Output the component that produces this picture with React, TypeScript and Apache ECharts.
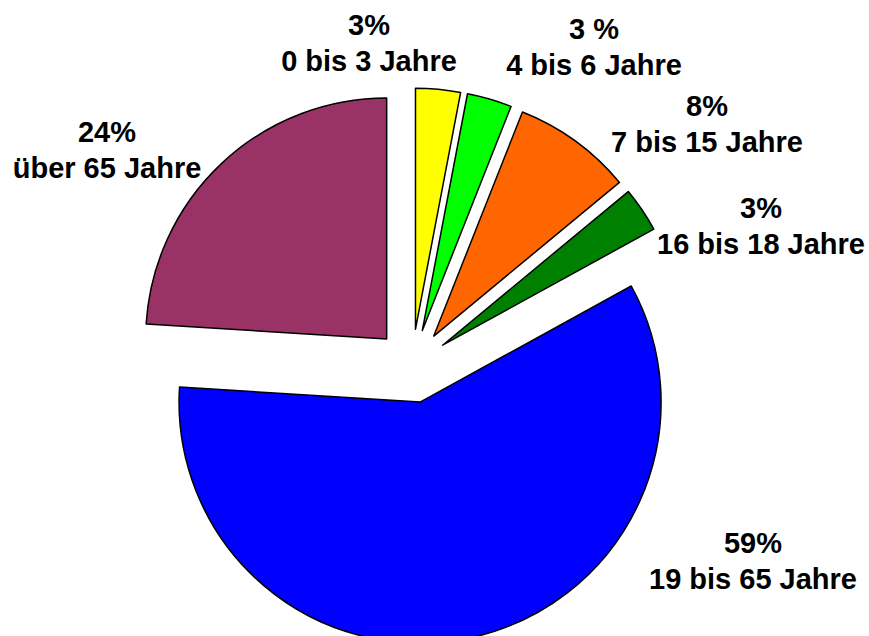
import React, { useEffect, useRef } from "react";
import * as echarts from "echarts";

const categories = ["0 bis 3 Jahre", "4 bis 6 Jahre", "7 bis 15 Jahre", "16 bis 18 Jahre", "19 bis 65 Jahre", "über 65 Jahre"];
const values = [3, 3, 8, 3, 59, 24];
const percentLabels = ["3%", "3 %", "8%", "3%", "59%", "24%"];
const colors = ["#FFFF00", "#00FF00", "#FF6600", "#008000", "#0000FF", "#993366"];
// label block centers (x, y)
const labelPositions: [number, number][] = [
  [369, 43],
  [594, 47],
  [707, 124],
  [761, 226],
  [753, 561],
  [107, 150],
];

export default function App() {
  const ref = useRef<HTMLDivElement>(null);
  useEffect(() => {
    if (!ref.current) return;
    const chart = echarts.init(ref.current, undefined, { renderer: "svg" });
    chart.setOption({
      animation: false,
      backgroundColor: "#ffffff",
      graphic: categories.map((name, i) => ({
        type: "text",
        x: labelPositions[i][0],
        y: labelPositions[i][1],
        silent: true,
        style: {
          text: `${percentLabels[i]}\n${name}`,
          fill: "#000000",
          fontFamily: "Liberation Sans, Arial, sans-serif",
          fontWeight: "bold",
          fontSize: 29,
          lineHeight: 36,
          align: "center",
          verticalAlign: "middle",
        },
      })),
      series: [
        {
          type: "pie",
          center: [412, 366],
          radius: [0, 241],
          startAngle: 90,
          clockwise: true,
          selectedMode: "multiple",
          selectedOffset: 37,
          avoidLabelOverlap: false,
          itemStyle: { borderColor: "#000000", borderWidth: 1.5 },
          emphasis: { disabled: true },
          select: { itemStyle: { borderColor: "#000000", borderWidth: 1.5 } },
          label: { show: false },
          labelLine: { show: false },
          data: categories.map((name, i) => ({
            name,
            value: values[i],
            selected: true,
            itemStyle: { color: colors[i] },
            select: { itemStyle: { color: colors[i] } },
          })),
        },
      ],
    });
    return () => chart.dispose();
  }, []);
  return <div ref={ref} style={{ position: "fixed", left: 0, top: 0, width: 869, height: 636 }} />;
}
